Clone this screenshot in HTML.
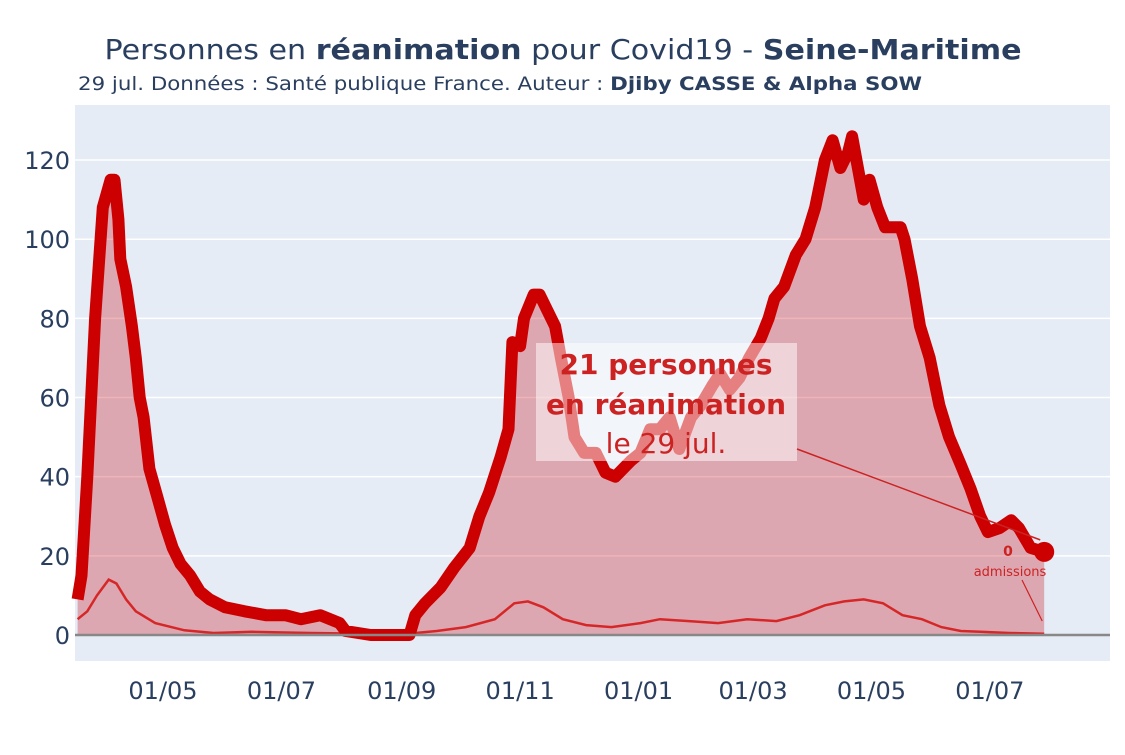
<!DOCTYPE html>
<html><head><meta charset="utf-8"><style>
html,body{margin:0;padding:0;background:#fff;}
svg text{font-family:"DejaVu Sans","Liberation Sans",sans-serif;}
</style></head><body>
<svg id="chart" width="1125" height="750" viewBox="0 0 1125 750" xmlns="http://www.w3.org/2000/svg">
<rect x="0" y="0" width="1125" height="750" fill="#fff"/>
<text x="563" y="59" text-anchor="middle" font-size="28" fill="#2a3f5f" textLength="917" lengthAdjust="spacingAndGlyphs">Personnes en <tspan font-weight="bold">réanimation</tspan> pour Covid19 - <tspan font-weight="bold">Seine-Maritime</tspan></text>
<text x="78" y="90" font-size="19" fill="#2a3f5f" textLength="844" lengthAdjust="spacingAndGlyphs">29 jul. Données : Santé publique France. Auteur : <tspan font-weight="bold">Djiby CASSE &amp; Alpha SOW</tspan></text>
<rect x="75" y="105" width="1035" height="556" fill="#e5ecf6"/>
<g id="grid"></g>
<g id="series"></g>
<g id="annot"></g>
<g id="ticks"></g>
</svg>
<script>
// days since 2020-03-18
const days = [0,2,5,9,13,17,19,21,22,25,28,30,32,34,37,41,45,49,53,58,63,68,76,86,97,107,115,125,135,138,151,171,174,179,187,194,202,207,212,218,222,224,228,230,235,238,242,246,249,253,256,261,267,272,277,285,290,295,300,305,310,316,321,327,331,336,341,346,352,356,359,364,370,375,380,385,389,393,397,399,402,405,408,412,416,424,426,430,434,439,444,449,455,460,465,469,475,481,485,491,498];
const patients = [9,15,40,80,108,115,115,105,95,88,78,70,60,55,42,35,28,22,18,15,11,9,7,6,5,5,4,5,3,1,0,0,5,8,12,17,22,30,36,45,52,74,73,80,86,86,82,78,70,60,50,46,46,41,40,44,46,52,52,55,47,55,58,63,66,62,65,70,75,80,85,88,96,100,108,120,125,118,122,126,118,110,115,108,103,103,100,90,78,70,58,50,43,37,30,26,27,29,27,22,21];
const admDays = [0,5,10,16,20,25,30,40,55,70,90,120,150,170,185,200,215,225,232,240,250,262,275,290,300,315,330,345,360,372,385,395,405,415,425,435,445,455,465,480,498];
const admissions = [4,6,10,14,13,9,6,3,1.2,0.5,0.8,0.5,0.3,0.3,1,2,4,8,8.5,7,4,2.5,2,3,4,3.5,3,4,3.5,5,7.5,8.5,9,8,5,4,2,1,0.8,0.5,0.3];
const yTicks = [0,20,40,60,80,100,120];
const xTickDays = [44,105,167,228,289,348,409,470];
const xTickLabels = ["01/05","01/07","01/09","01/11","01/01","01/03","01/05","01/07"];
const lastValue = 21, lastAdmissions = 0;

const NS="http://www.w3.org/2000/svg";
const X = d => 163 + (d-44)*1.941;
const Y = v => 635 - v*3.958;
function mk(tag, attrs, parent){const e=document.createElementNS(NS,tag);for(const k in attrs)e.setAttribute(k,attrs[k]);document.getElementById(parent).appendChild(e);return e;}

yTicks.forEach(v=>{
  const l=mk('line',{x1:75,x2:1110,y1:Y(v),y2:Y(v),stroke:'#fff','stroke-width':1.5},'grid');
  
  
  const t=mk('text',{x:70,y:Y(v)+9,'text-anchor':'end','font-size':24,fill:'#2a3f5f'},'ticks');
  t.textContent=v;
  
  
});
xTickDays.forEach((d,i)=>{
  const t=mk('text',{x:X(d),y:699,'text-anchor':'middle','font-size':24,fill:'#2a3f5f'},'ticks');
  t.textContent=xTickLabels[i];
  
  
});

let pts=days.map((d,i)=>X(d).toFixed(1)+','+Y(patients[i]).toFixed(1));
const area=mk('polygon',{points:X(days[0])+','+Y(0)+' '+pts.join(' ')+' '+X(days[days.length-1])+','+Y(0),fill:'rgba(205,40,50,0.35)'},'series');


const adm=mk('polyline',{points:admDays.map((d,i)=>X(d).toFixed(1)+','+Y(admissions[i]).toFixed(1)).join(' '),fill:'none',stroke:'#d62728','stroke-width':2.5},'series');


const line=mk('polyline',{points:pts.join(' '),fill:'none',stroke:'#cc0000','stroke-width':12,'stroke-linejoin':'round'},'series');


const ax=mk('line',{x1:75,x2:1110,y1:Y(0),y2:Y(0),stroke:'#888','stroke-width':2.5},'series');


const lx=X(days[days.length-1]), ly=Y(lastValue);
const dot=mk('circle',{cx:lx,cy:ly,r:10,fill:'#cc0000'},'series');



const box=mk('rect',{x:536,y:343,width:261,height:118,fill:'rgba(255,255,255,0.5)'},'annot');


const ar=mk('line',{x1:797,y1:449,x2:lx-4,y2:ly-12,stroke:'#cc2222','stroke-width':1.5},'annot');


[["21 personnes",374,'bold'],["en réanimation",414,'bold'],["le 29 jul.",453,'normal']].forEach(([s,y,w],i)=>{
  const t=mk('text',{x:666,y:y,'text-anchor':'middle','font-size':28,'font-weight':w,fill:'#cc2222'},'annot');
  t.textContent=i===0?lastValue+" personnes":s;
  
  
});
const a0=mk('text',{x:1008,y:556,'text-anchor':'middle','font-size':14,'font-weight':'bold',fill:'#cc2222'},'annot');
a0.textContent=lastAdmissions;


const a1=mk('text',{x:1010,y:576,'text-anchor':'middle','font-size':13,fill:'#cc2222'},'annot');
a1.textContent='admissions';


const a2=mk('line',{x1:1022,y1:580,x2:lx-2,y2:Y(lastAdmissions)-14,stroke:'#cc2222','stroke-width':1.2},'annot');


</script>
</body></html>
